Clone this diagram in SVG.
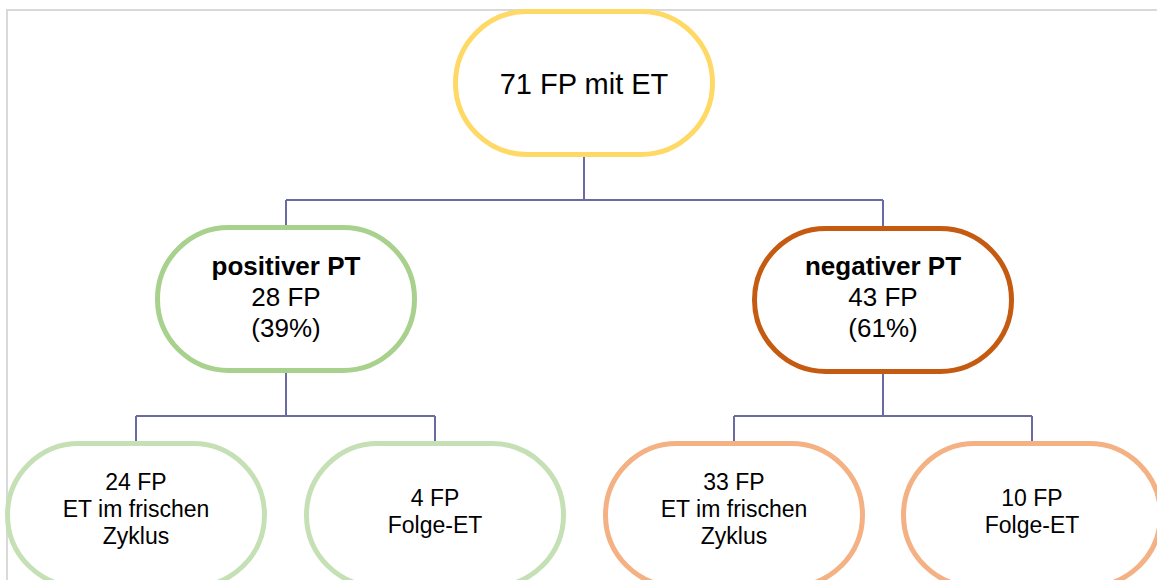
<svg xmlns="http://www.w3.org/2000/svg" width="1157" height="580" viewBox="0 0 1157 580">
<style>
.node{fill:#ffffff;stroke-width:5}
.top{stroke:#ffd966}
.pos{stroke:#a9d18e}
.neg{stroke:#c55a11}
.posc{stroke:#c5e0b4}
.negc{stroke:#f4b183}
text{font-family:"Liberation Sans",Arial,sans-serif;fill:#000000;text-anchor:middle}
.t1{font-size:29px}
.t2{font-size:26px}
.t3{font-size:23px}
.b{font-weight:bold}
.conn{fill:none;stroke:#6b6ba3;stroke-width:2}
</style>
<rect x="7" y="10" width="1200" height="620" fill="#ffffff" stroke="#d9d9d9" stroke-width="2"/>
<g id="connectors">
<path class="conn" d="M584 156V200M286 200H883M286 200V227M883 200V227"/>
<path class="conn" d="M286 372V416M136 416H435M136 416V443M435 416V443"/>
<path class="conn" d="M883 372V416M734 416H1032M734 416V443M1032 416V443"/>
</g>
<g id="n-root">
<rect class="node top" x="455.5" y="11.5" width="257" height="143" rx="71.5"/>
<text class="t1" x="584" y="94">71 FP mit ET</text>
</g>
<g id="n-pos">
<rect class="node pos" x="157.5" y="227.5" width="257" height="143" rx="71.5"/>
<text class="t2" x="286" y="275"><tspan class="b">positiver PT</tspan><tspan x="286" y="306">28 FP</tspan><tspan x="286" y="337">(39%)</tspan></text>
</g>
<g id="n-neg">
<rect class="node neg" x="754.5" y="228.5" width="257" height="143" rx="71.5"/>
<text class="t2" x="883" y="275"><tspan class="b">negativer PT</tspan><tspan x="883" y="306">43 FP</tspan><tspan x="883" y="337">(61%)</tspan></text>
</g>
<g id="n-pos-fresh">
<rect class="node posc" x="7.5" y="443.5" width="257" height="143" rx="71.5"/>
<text class="t3" x="136" y="490">24 FP<tspan x="136" y="517">ET im frischen</tspan><tspan x="136" y="544">Zyklus</tspan></text>
</g>
<g id="n-pos-folge">
<rect class="node posc" x="306.5" y="443.5" width="257" height="143" rx="71.5"/>
<text class="t3" x="435" y="506">4 FP<tspan x="435" y="533">Folge-ET</tspan></text>
</g>
<g id="n-neg-fresh">
<rect class="node negc" x="605.5" y="443.5" width="257" height="143" rx="71.5"/>
<text class="t3" x="734" y="490">33 FP<tspan x="734" y="517">ET im frischen</tspan><tspan x="734" y="544">Zyklus</tspan></text>
</g>
<g id="n-neg-folge">
<rect class="node negc" x="903.5" y="443.5" width="257" height="143" rx="71.5"/>
<text class="t3" x="1032" y="506">10 FP<tspan x="1032" y="533">Folge-ET</tspan></text>
</g>
</svg>
